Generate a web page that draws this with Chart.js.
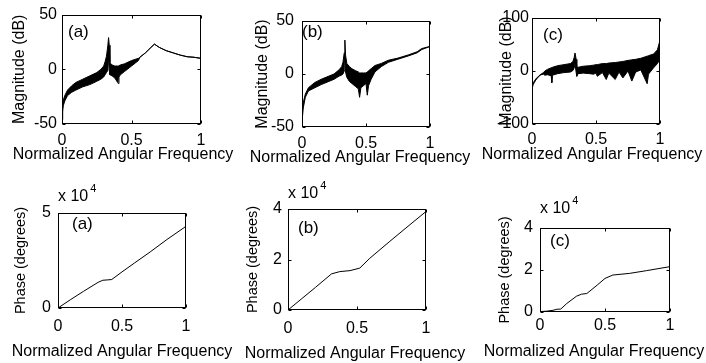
<!DOCTYPE html>
<html><head><meta charset="utf-8">
<script src="https://cdn.jsdelivr.net/npm/chart.js@4/dist/chart.umd.min.js"></script>
<style>
html,body{margin:0;padding:0;background:#fff;}
#wrap{position:relative;width:706px;height:363px;overflow:hidden;background:#fff;}
canvas{position:absolute;}
</style></head><body><div id="wrap">
<canvas id="mA" width="235" height="172" style="left:0px;top:0px"></canvas>
<canvas id="mB" width="235" height="172" style="left:235px;top:0px"></canvas>
<canvas id="mC" width="236" height="172" style="left:470px;top:0px"></canvas>
<canvas id="pA" width="235" height="191" style="left:0px;top:172px"></canvas>
<canvas id="pB" width="235" height="191" style="left:235px;top:172px"></canvas>
<canvas id="pC" width="236" height="191" style="left:470px;top:172px"></canvas>
</div>
<script>
// ---------- data ----------
const xTicks = [0, 0.5, 1];
const xTickLabels = ['0', '0.5', '1'];
const magTicksAB = [-50, 0, 50];
const magTicksC = [-100, 0, 100];
const phTicksA = [0, 5];
const phTicksBC = [0, 2, 4];
const xTitle = 'Normalized Angular Frequency';
const magTitle = 'Magnitude (dB)';
const phTitle = 'Phase (degrees)';

// (a) magnitude: upper / lower envelope of the dense response
const magA_x  = [0, 0.005, 0.01, 0.02, 0.04, 0.07, 0.1, 0.15, 0.2, 0.25, 0.28, 0.3, 0.31, 0.32, 0.33, 0.335, 0.34, 0.345, 0.36, 0.38, 0.4, 0.405, 0.41, 0.42, 0.45, 0.5, 0.55, 0.56, 0.6, 0.64, 0.665, 0.7, 0.75, 0.8, 0.85, 0.9, 0.95, 1.0];
const magA_hi = [-38, -31, -28, -24, -19, -15, -12, -9, -6, -3, 0, 3, 7, 12, 22, 29, 22, 6, 4, 3, 3, 3, 3, 4, 5, 8, 10, 11, 15, 20, 23, 20, 17, 15, 13, 11.5, 11, 10];
const magA_lo = [-46, -37, -33, -29, -24, -21, -19, -16, -14, -11, -9, -7, -5, -3, -1, 12, 0, -5, -6, -8, -12, -13, -7, -5, -2, 3, 8, 11, 15, 20, 23, 20, 17, 15, 13, 11.5, 11, 10];

// (b) magnitude
const magB_x  = [0, 0.01, 0.026, 0.05, 0.1, 0.15, 0.21, 0.25, 0.29, 0.31, 0.32, 0.33, 0.335, 0.34, 0.35, 0.37, 0.39, 0.42, 0.44, 0.45, 0.46, 0.48, 0.5, 0.51, 0.52, 0.54, 0.57, 0.62, 0.675, 0.75, 0.83, 0.9, 0.935, 1.0];
const magB_hi = [-38, -27, -19, -13, -8, -5, -2, 0, 4, 7, 11, 20, 32, 18, 10, 7, 5, 3, 2, 1, 1, 1, 1, 2, 3, 5, 8, 10, 13, 15, 18, 21, 24, 26];
const magB_lo = [-45, -32, -22, -16, -13, -10, -7, -5, -2, -1, 0, 3, 15, 2, -3, -7, -9, -12, -14, -22, -13, -11, -9, -20, -11, -5, 2, 7, 11, 14, 17, 20, 23, 26];

// (c) magnitude
const magC_x  = [0, 0.01, 0.03, 0.05, 0.07, 0.09, 0.1, 0.12, 0.15, 0.155, 0.16, 0.2, 0.25, 0.3, 0.32, 0.33, 0.336, 0.345, 0.35, 0.36, 0.4, 0.45, 0.48, 0.5, 0.51, 0.55, 0.58, 0.6, 0.65, 0.68, 0.71, 0.75, 0.78, 0.81, 0.85, 0.9, 0.91, 0.95, 0.98, 1.0];
const magC_hi = [-30, -22, -15, -10, -6, -3, 0, 3, 6, 6, 7, 10, 12, 14, 18, 26, 34, 22, 8, 7, 9, 10, 11, 12, 12, 14, 14, 15, 16, 17, 18, 20, 21, 22, 24, 28, 29, 32, 40, 58];
const magC_lo = [-34, -25, -17, -11, -7, -6, -8, -7, -9, -22, -8, -5, -3, -2, 1, 6, 14, -3, -10, -5, -4, -5, -6, -4, -10, -3, -16, -4, -16, -2, -13, 0, -19, -2, 2, -24, -6, 6, 14, 22];

// phase (x 10^4 degrees)
const phA_x = [0, 0.1, 0.2, 0.313, 0.35, 0.39, 0.42, 0.5, 0.6, 0.72, 0.85, 1.0];
const phA_y = [0, 0.45, 0.88, 1.35, 1.46, 1.48, 1.5, 1.9, 2.38, 2.95, 3.6, 4.3];
const phB_x = [0, 0.1, 0.2, 0.315, 0.375, 0.45, 0.52, 0.593, 0.738, 0.884, 1.0];
const phB_y = [0, 0.45, 0.9, 1.43, 1.52, 1.56, 1.66, 2.05, 2.72, 3.38, 3.9];
const phC_x = [0, 0.05, 0.1, 0.13, 0.16, 0.205, 0.28, 0.32, 0.36, 0.44, 0.5, 0.56, 0.69, 0.82, 1.0];
const phC_y = [0.02, 0.04, 0.08, 0.13, 0.14, 0.4, 0.75, 0.85, 0.88, 1.28, 1.6, 1.76, 1.84, 1.97, 2.16];

// ---------- rendering ----------
const FONT = "'Liberation Sans', Arial, Helvetica, sans-serif";
const pts = (xs, ys) => xs.map((x, i) => ({x: x, y: ys[i]}));

function bandSets(xs, hi, lo) {
  return [
    {data: pts(xs, hi), borderColor: '#000', backgroundColor: '#000', borderWidth: 1, fill: '+1', pointRadius: 0, tension: 0},
    {data: pts(xs, lo), borderColor: '#000', backgroundColor: '#000', borderWidth: 1, fill: false, pointRadius: 0, tension: 0}
  ];
}
function lineSet(xs, ys) {
  return [{data: pts(xs, ys), borderColor: '#000', borderWidth: 1, fill: false, pointRadius: 0, tension: 0}];
}

function framePlugin(o) {
  return {
    id: 'frame',
    afterDraw(chart) {
      const ctx = chart.ctx, a = chart.chartArea;
      const xs = chart.scales.x, ys = chart.scales.y;
      ctx.save();
      ctx.strokeStyle = '#000'; ctx.lineWidth = 1;
      const L = Math.round(a.left) + 0.5, R = Math.round(a.right) - 0.5;
      const T = Math.round(a.top) + 0.5, B = Math.round(a.bottom) - 0.5;
      ctx.strokeRect(L, T, R - L, B - T);
      ctx.beginPath();
      xs.ticks.forEach(t => {
        const p = Math.round(xs.getPixelForValue(t.value)) + 0.5;
        ctx.moveTo(p, B); ctx.lineTo(p, B - 3);
        ctx.moveTo(p, T); ctx.lineTo(p, T + 3);
      });
      ys.ticks.forEach(t => {
        const p = Math.round(ys.getPixelForValue(t.value)) + 0.5;
        ctx.moveTo(L, p); ctx.lineTo(L + 3, p);
        ctx.moveTo(R, p); ctx.lineTo(R - 3, p);
      });
      ctx.stroke();
      ctx.fillStyle = '#000';
      ctx.textBaseline = 'middle';
      // x axis title
      ctx.textAlign = 'center';
      ctx.font = '16px ' + FONT;
      ctx.fillText(xTitle, o.cx, o.cy);
      // panel label
      ctx.textAlign = 'left';
      ctx.font = '17px ' + FONT;
      ctx.fillText(o.label, a.left + o.lx, a.top + o.ly);
      if (o.exp) {
        ctx.font = '16px ' + FONT;
        ctx.fillText('x 10', a.left + o.ex, a.top - o.ey);
        const w = ctx.measureText('x 10').width;
        ctx.font = '11px ' + FONT;
        ctx.fillText('4', a.left + o.ex + w + 2, a.top - o.ey - 8);
      }
      ctx.restore();
    }
  };
}

function makeChart(id, p) {
  new Chart(document.getElementById(id), {
    type: 'line',
    data: {datasets: p.datasets},
    plugins: [framePlugin(p)],
    options: {
      responsive: false, animation: false, devicePixelRatio: 1,
      layout: {padding: {left: 0, top: p.top, right: p.right, bottom: 0}},
      plugins: {legend: {display: false}, tooltip: {enabled: false}},
      scales: {
        x: {
          type: 'linear', min: 0, max: 1,
          afterBuildTicks: s => { s.ticks = xTicks.map(v => ({value: v})); },
          afterFit: s => { s.height = p.xh; },
          grid: {display: false, drawTicks: false}, border: {display: false},
          ticks: {color: '#000', padding: p.xtp, maxRotation: 0, autoSkip: false,
                  font: {family: FONT, size: 16},
                  callback: (v, i) => xTickLabels[i]},
          title: {display: false, text: xTitle}
        },
        y: {
          type: 'linear', min: p.yTicks[0], max: p.yTicks[p.yTicks.length - 1],
          afterBuildTicks: s => { s.ticks = p.yTicks.map(v => ({value: v})); },
          afterFit: s => { s.width = p.yw; },
          grid: {display: false, drawTicks: false}, border: {display: false},
          ticks: {color: '#000', padding: p.ytp, autoSkip: false,
                  font: {family: FONT, size: 16},
                  callback: (v, i) => String(p.yTicks[i])},
          title: {display: true, text: p.yTitle, color: '#000',
                  font: {family: FONT, size: p.yts}, padding: {top: p.ytt, bottom: 0}}
        }
      }
    }
  });
}

makeChart('mA', {datasets: bandSets(magA_x, magA_hi, magA_lo), yTicks: magTicksAB, yTitle: magTitle, yts: 16,
  top: 14, right: 34, yw: 62, xh: 48, ytt: 10.4, ytp: 5, xtp: 7.4, cx: 123, cy: 155, label: '(a)', lx: 6, ly: 18});
makeChart('mB', {datasets: bandSets(magB_x, magB_hi, magB_lo), yTicks: magTicksAB, yTitle: magTitle, yts: 16,
  top: 21, right: 40, yw: 67, xh: 45, ytt: 18.4, ytp: 8, xtp: 7.4, cx: 125, cy: 158, label: '(b)', lx: 0, ly: 11});
makeChart('mC', {datasets: bandSets(magC_x, magC_hi, magC_lo), yTicks: magTicksC, yTitle: magTitle, yts: 16,
  top: 18, right: 46, yw: 62, xh: 48, ytt: 27.4, ytp: 3, xtp: 6.4, cx: 122, cy: 155, label: '(c)', lx: 11, ly: 17});
makeChart('pA', {datasets: lineSet(phA_x, phA_y), yTicks: phTicksA, yTitle: phTitle, yts: 14.5,
  top: 41, right: 49, yw: 58, xh: 55, ytt: 12.3, ytp: 7, xtp: 9, cx: 122, cy: 180, label: '(a)', lx: 14, ly: 11, exp: true, ex: 0, ey: 16});
makeChart('pB', {datasets: lineSet(phB_x, phB_y), yTicks: phTicksBC, yTitle: phTitle, yts: 14.5,
  top: 37, right: 44, yw: 53, xh: 53, ytt: 9.3, ytp: 6, xtp: 9, cx: 120, cy: 182, label: '(b)', lx: 10, ly: 19, exp: true, ex: 0, ey: 15});
makeChart('pC', {datasets: lineSet(phC_x, phC_y), yTicks: phTicksBC, yTitle: phTitle, yts: 14.5,
  top: 56, right: 36, yw: 70, xh: 51, ytt: 26.3, ytp: 7, xtp: 4, cx: 124, cy: 180, label: '(c)', lx: 10, ly: 13, exp: true, ex: 0, ey: 19});
</script>
</body></html>
